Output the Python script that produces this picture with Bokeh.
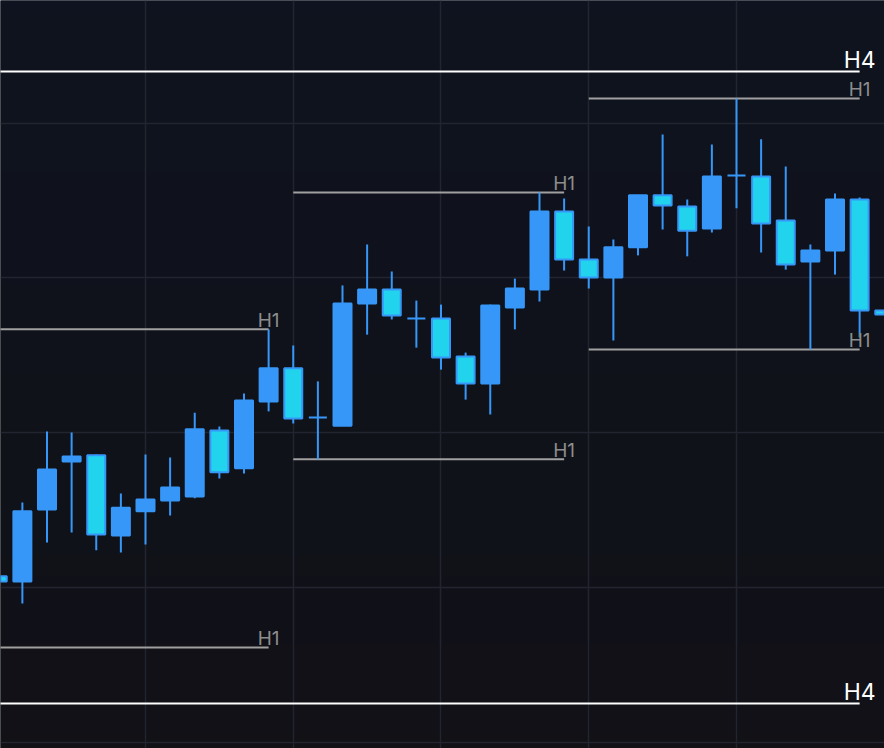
import numpy as np
from bokeh.plotting import figure
from bokeh.models import Range1d, Grid, FixedTicker, ColumnDataSource
from bokeh.core.properties import value
from bokeh.embed import file_html
from bokeh.resources import INLINE

# ---- candle data (index, open, high, low, close) ----
idx = list(range(37))
opens = [2400.36, 2400.19, 2402.52, 2404.07, 2404.27, 2401.68, 2402.46, 2402.81, 2402.94, 2405.07,
         2403.85, 2406.01, 2407.08, 2405.49, 2405.23, 2409.18, 2409.63, 2408.69, 2408.69, 2407.46,
         2406.59, 2409.05, 2409.63, 2412.15, 2410.60, 2410.02, 2410.99, 2412.67, 2412.31, 2411.60,
         2413.31, 2413.28, 2411.86, 2410.53, 2410.89, 2412.54, 2408.95]
highs = [2400.36, 2402.75, 2405.04, 2405.01, 2404.30, 2403.04, 2404.30, 2404.20, 2405.65, 2405.20,
         2406.27, 2408.34, 2407.82, 2406.66, 2409.76, 2411.08, 2410.21, 2409.27, 2409.14, 2407.59,
         2409.14, 2409.98, 2412.76, 2412.57, 2411.66, 2411.24, 2412.67, 2414.64, 2412.54, 2414.31,
         2415.80, 2414.48, 2413.60, 2411.08, 2412.73, 2412.60, 2408.95]
lows = [2400.19, 2399.48, 2401.45, 2401.78, 2401.20, 2401.13, 2401.39, 2402.33, 2402.88, 2403.52,
        2403.68, 2405.69, 2405.30, 2404.14, 2405.23, 2408.17, 2408.66, 2407.75, 2407.04, 2406.07,
        2405.59, 2408.34, 2409.24, 2410.24, 2409.66, 2407.98, 2410.73, 2411.57, 2410.70, 2411.47,
        2412.25, 2410.82, 2410.27, 2407.69, 2410.11, 2408.08, 2408.82]
closes = [2400.19, 2402.46, 2403.81, 2404.23, 2401.71, 2402.58, 2402.84, 2403.23, 2405.11, 2403.72,
          2406.04, 2407.08, 2405.46, 2405.49, 2409.18, 2409.63, 2408.79, 2408.69, 2407.43, 2406.59,
          2409.11, 2409.66, 2412.15, 2410.60, 2410.02, 2410.99, 2412.67, 2412.34, 2411.53, 2413.28,
          2413.31, 2411.76, 2410.44, 2410.89, 2412.54, 2408.95, 2408.82]

# ---- higher-timeframe levels (label, price, first candle, last candle) ----
level_labels = ["H4", "H4", "H1", "H1", "H1", "H1", "H1", "H1"]
level_prices = [2416.67, 2396.25, 2408.34, 2398.06, 2412.76, 2404.14, 2415.80, 2407.69]
level_start = [-12, -12, 0, 0, 12, 12, 24, 24]
level_end = [35, 35, 11, 11, 23, 23, 35, 35]

grid_x = [6, 12, 18, 24, 30]
grid_y = [2395, 2400, 2405, 2410, 2415]

BLUE = "#3797f8"
CYAN = "#22d3ee"
BG = "#0f121b"
BG_TOP = (14, 19, 31)
BG_BOT = (17, 17, 22)

W, H = 884, 748
PX_PER_CANDLE = 24.625
x0 = 0.1117
x1 = x0 + W / PX_PER_CANDLE
y0, y1 = 2394.798, 2418.966

p = figure(width=W, height=H, output_backend="svg", toolbar_location=None,
           x_axis_location=None, y_axis_location=None,
           x_range=Range1d(x0, x1), y_range=Range1d(y0, y1),
           min_border=0, outline_line_color=None)
p.background_fill_color = BG
p.border_fill_color = BG
for g in p.grid:
    g.visible = False

# subtle vertical background gradient (slightly oversized to hide edges)
N = 256
img = np.empty((N, 1), dtype=np.uint32)
view = img.view(dtype=np.uint8).reshape((N, 1, 4))
t = np.linspace(0, 1, N)  # 0 = bottom, 1 = top
for c in range(3):
    view[:, 0, c] = np.round(BG_BOT[c] * (1 - t) + BG_TOP[c] * t).astype(np.uint8)
view[:, 0, 3] = 255
pad_x, pad_y = 1.0, 1.0
p.image_rgba(image=[img], x=x0 - pad_x, y=y0 - pad_y, dw=x1 - x0 + 2 * pad_x,
             dh=y1 - y0 + 2 * pad_y, level="image")

# grid
p.add_layout(Grid(dimension=0, ticker=FixedTicker(ticks=grid_x),
                  grid_line_color="#22252f", grid_line_width=1.5))
p.add_layout(Grid(dimension=1, ticker=FixedTicker(ticks=grid_y),
                  grid_line_color="#22252f", grid_line_width=1.5))

# levels
h4 = [i for i, l in enumerate(level_labels) if l == "H4"]
h1 = [i for i, l in enumerate(level_labels) if l == "H1"]

def lvl_src(ids):
    return ColumnDataSource(dict(
        x0=[level_start[i] for i in ids], x1=[level_end[i] for i in ids],
        y=[level_prices[i] for i in ids], label=[level_labels[i] for i in ids]))

s_h4, s_h1 = lvl_src(h4), lvl_src(h1)
p.segment(x0="x0", y0="y", x1="x1", y1="y", source=s_h1, line_color="#a0a0a0", line_width=2)
p.segment(x0="x0", y0="y", x1="x1", y1="y", source=s_h4, line_color="#ffffff", line_width=2)

# candles
up = [c >= o for o, c in zip(opens, closes)]
src = ColumnDataSource(dict(
    x=idx, high=highs, low=lows,
    top=[max(o, c) for o, c in zip(opens, closes)],
    bottom=[min(o, c) for o, c in zip(opens, closes)],
    fill=[BLUE if u else CYAN for u in up]))
p.segment(x0="x", y0="low", x1="x", y1="high", source=src, line_color=BLUE, line_width=2)
p.vbar(x="x", width=18 / PX_PER_CANDLE, top="top", bottom="bottom", source=src,
       fill_color="fill", line_color=BLUE, line_width=2)

# labels
p.text(x="x1", y="y", text="label", source=s_h1, text_align="center",
       text_baseline="middle", y_offset=-9, text_color="#8d8d8d",
       text_font=value("Inter"), text_font_size="19px")
p.text(x="x1", y="y", text="label", source=s_h4, text_align="center",
       text_baseline="middle", y_offset=-12, text_color="#ffffff",
       text_font=value("Inter"), text_font_size="23px")

open("out.html", "w").write(file_html(p, INLINE))
